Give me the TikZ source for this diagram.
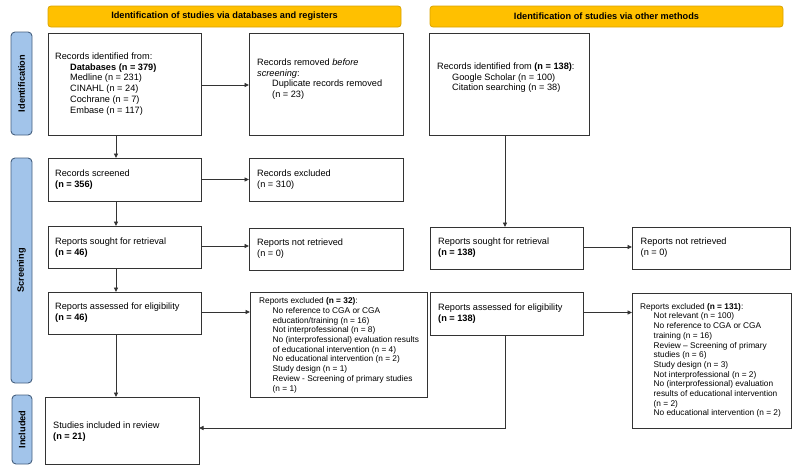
\documentclass[tikz,border=0pt]{standalone}
\usepackage{fontspec}
\setmainfont{Liberation Sans}
\usetikzlibrary{arrows.meta}
\definecolor{hdrfill}{HTML}{FFC000}
\definecolor{hdrline}{HTML}{D9A300}
\definecolor{sidefill}{HTML}{A2C4EA}
\definecolor{sideline}{HTML}{46607F}
\definecolor{lnc}{HTML}{333333}
\newcommand{\myind}{\hspace*{15pt}}
\newcommand{\myinds}{\hspace*{13.5pt}}
\tikzset{
  box/.style={draw=lnc, line width=0.9pt, fill=white, inner sep=0pt, outer sep=0pt, anchor=north west},
  hdr/.style={draw=hdrline, fill=hdrfill, line width=0.8pt, rounded corners=3pt, inner sep=0pt, outer sep=0pt, anchor=north west,
    font=\fontsize{9.2}{10.8}\selectfont\bfseries},
  side/.style={draw=sideline, fill=sidefill, line width=0.9pt, rounded corners=4pt, inner sep=0pt, outer sep=0pt, anchor=north west},
  sidetxt/.style={rotate=90, font=\fontsize{9.2}{10.8}\selectfont\bfseries, inner sep=0pt},
  txt/.style={font=\fontsize{9.2}{10.8}\selectfont, align=left, inner sep=0pt, anchor=north west},
  stxt/.style={font=\fontsize{8.3}{9.7}\selectfont, align=left, inner sep=0pt, anchor=north west},
  arr/.style={draw=lnc, line width=0.9pt, -{Triangle[length=4.5pt,width=4pt]}},
  ln/.style={draw=lnc, line width=0.9pt}
}
\begin{document}
\begin{tikzpicture}[x=1pt,y=-1pt]
\useasboundingbox (0,0) rectangle (800,471);
% headers
\node[hdr, minimum width=353pt, minimum height=21pt] (hl) at (48,6) {};
\node[font=\fontsize{9.2}{10.8}\selectfont\bfseries, inner sep=0pt] (hlt) at (hl.center) {Identification of studies via databases and registers};
\node[hdr, minimum width=353pt, minimum height=21pt] (hr) at (430,6) {};
\node[font=\fontsize{9.2}{10.8}\selectfont\bfseries, inner sep=0pt] (hrt) at (hr.center) {Identification of studies via other methods};
% side bars
\node[side, minimum width=21pt, minimum height=103pt] (sid) at (11,32) {};
\node[sidetxt] (sidt) at (sid.center) {Identification};
\node[side, minimum width=21pt, minimum height=225pt] (ssc) at (11,158) {};
\node[sidetxt] (ssct) at (ssc.center) {Screening};
\node[side, minimum width=20pt, minimum height=69pt] (sin) at (12,395) {};
\node[sidetxt] (sint) at (sin.center) {Included};
% boxes
\node[box, minimum width=153pt, minimum height=102pt] (a) at (48,33) {};
\node[box, minimum width=154pt, minimum height=102pt] (b) at (249,33) {};
\node[box, minimum width=160pt, minimum height=102pt] (c) at (429,33) {};
\node[box, minimum width=153pt, minimum height=43pt] (s) at (48,158) {};
\node[box, minimum width=154pt, minimum height=43pt] (re) at (249,158) {};
\node[box, minimum width=153pt, minimum height=42pt] (sl) at (48,226) {};
\node[box, minimum width=154pt, minimum height=42pt] (nl) at (249,228) {};
\node[box, minimum width=153pt, minimum height=42pt] (sr) at (430,227) {};
\node[box, minimum width=158pt, minimum height=42pt] (nr) at (632,227) {};
\node[box, minimum width=153pt, minimum height=42pt] (al) at (48,292) {};
\node[box, minimum width=177pt, minimum height=105pt] (el) at (250,292) {};
\node[box, minimum width=153pt, minimum height=43pt] (ar) at (430,292) {};
\node[box, minimum width=159pt, minimum height=135pt] (er) at (632,293) {};
\node[box, minimum width=154pt, minimum height=67pt] (st) at (45,397) {};
% texts
\node[txt] (at) at ([shift={(7,19.5)}]a.north west) {Records identified from:\\
\myind\textbf{Databases (n = 379)}\\
\myind Medline (n = 231)\\
\myind CINAHL (n = 24)\\
\myind Cochrane (n = 7)\\
\myind Embase (n = 117)};
\node[txt] (bt) at ([shift={(8,25.5)}]b.north west) {Records removed \textit{before}\\
\textit{screening}:\\
\myind Duplicate records removed\\
\myind (n = 23)};
\node[txt] (ct) at ([shift={(8,29.5)}]c.north west) {Records identified from \textbf{(n = 138)}:\\
\myind Google Scholar (n = 100)\\
\myind Citation searching (n = 38)};
\node[txt] (stt) at ([shift={(7,12)}]s.north west) {Records screened\\ \textbf{(n = 356)}};
\node[txt] (ret) at ([shift={(8,12)}]re.north west) {Records excluded\\ (n = 310)};
\node[txt] (slt) at ([shift={(7,11.5)}]sl.north west) {Reports sought for retrieval\\ \textbf{(n = 46)}};
\node[txt] (nlt) at ([shift={(8,11)}]nl.north west) {Reports not retrieved\\ (n = 0)};
\node[txt] (srt) at ([shift={(8,11)}]sr.north west) {Reports sought for retrieval\\ \textbf{(n = 138)}};
\node[txt] (nrt) at ([shift={(8.5,10.5)}]nr.north west) {Reports not retrieved\\ (n = 0)};
\node[txt] (alt) at ([shift={(7,11)}]al.north west) {Reports assessed for eligibility\\ \textbf{(n = 46)}};
\node[txt] (art) at ([shift={(8,11.5)}]ar.north west) {Reports assessed for eligibility\\ \textbf{(n = 138)}};
\node[stxt] (elt) at ([shift={(9,5.5)}]el.north west) {Reports excluded \textbf{(n = 32)}:\\
\myinds No reference to CGA or CGA\\
\myinds education/training (n = 16)\\
\myinds Not interprofessional (n = 8)\\
\myinds No (interprofessional) evaluation results\\
\myinds of educational intervention (n = 4)\\
\myinds No educational intervention (n = 2)\\
\myinds Study design (n = 1)\\
\myinds Review - Screening of primary studies\\
\myinds (n = 1)};
\node[stxt] (ert) at ([shift={(8,10)}]er.north west) {Reports excluded \textbf{(n = 131)}:\\
\myinds Not relevant (n = 100)\\
\myinds No reference to CGA or CGA\\
\myinds training (n = 16)\\
\myinds Review – Screening of primary\\
\myinds studies (n = 6)\\
\myinds Study design (n = 3)\\
\myinds Not interprofessional (n = 2)\\
\myinds No (interprofessional) evaluation\\
\myinds results of educational intervention\\
\myinds (n = 2)\\
\myinds No educational intervention (n = 2)};
\node[txt] (stt2) at ([shift={(8,24.5)}]st.north west) {Studies included in review\\ \textbf{(n = 21)}};
% connectors
\coordinate (xl) at (116,0);
\coordinate (xr) at (505,0);
\coordinate (yb) at (0,428);
\draw[arr] (a.south -| xl) -- (s.north -| xl);
\draw[arr] (s.south -| xl) -- (sl.north -| xl);
\draw[arr] (sl.south -| xl) -- (al.north -| xl);
\draw[arr] (al.south -| xl) -- (st.north -| xl);
\draw[arr] ([yshift=-1pt]a.east) -- ([yshift=-1pt]a.east -| b.west);
\draw[arr] (s.east) -- (s.east -| re.west);
\draw[arr] ([yshift=1pt]sl.east) -- ([yshift=1pt]sl.east -| nl.west);
\draw[arr] ([yshift=1pt]al.east) -- ([yshift=1pt]al.east -| el.west);
\draw[arr] (c.south -| xr) -- (sr.north -| xr);
\draw[arr] ([yshift=1pt]sr.east) -- ([yshift=1pt]sr.east -| nr.west);
\draw[arr] ([yshift=1pt]ar.east) -- ([yshift=1pt]ar.east -| er.west);
\draw[arr] (ar.south -| xr) -- (yb -| xr) -- (yb -| st.east);
\end{tikzpicture}
\end{document}
